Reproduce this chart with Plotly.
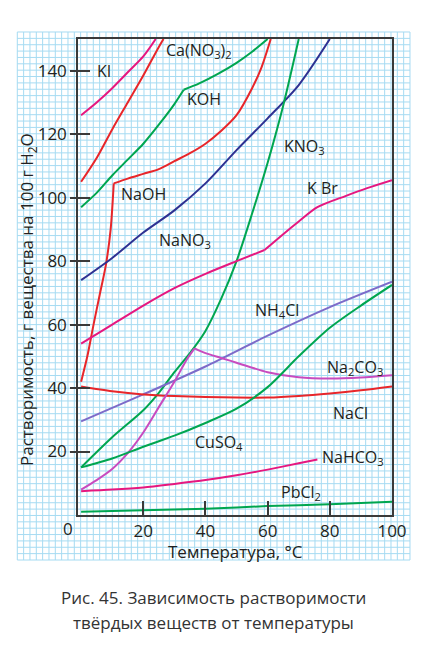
import plotly.graph_objects as go

# ---------------- data (temperature °C, solubility g / 100 g H2O) ----------------
KI_x = [0, 5, 10, 15, 20, 24]
KI_y = [126, 130, 134.5, 139.5, 144.5, 150]

CaNO3_x = [0, 5, 10, 15, 20, 25, 26.5]
CaNO3_y = [105, 112.5, 121.5, 130, 138.5, 147.5, 150]

KOH_x = [0, 5, 10, 15, 20, 25, 30, 33, 38, 44, 50, 55, 60]
KOH_y = [97, 101.5, 107, 112, 117, 123, 129.5, 134, 136, 139, 142.5, 146, 150]

NaOH_x = [0, 2, 4, 6, 8, 9.5, 10.5, 15, 20, 25, 30, 35, 40, 45, 50, 55, 58, 61]
NaOH_y = [42, 50, 60, 69.5, 79, 90, 104.5, 106, 107.5, 109, 111.5, 114, 117, 121, 126, 134.5, 141, 150]

NaNO3_x = [0, 10, 20, 30, 40, 50, 60, 70, 80]
NaNO3_y = [74, 81, 89, 96, 104.5, 115, 125, 135.5, 150]

KNO3_x = [0, 10, 20, 25, 30, 35, 40, 45, 50, 55, 60, 65, 70]
KNO3_y = [15, 24.5, 33, 38.5, 45, 51, 58, 68, 80, 95, 111, 129, 150]

KBr_x = [0, 10, 20, 30, 40, 50, 59, 65, 70, 76, 85, 92, 100]
KBr_y = [54, 60, 66, 71.5, 76, 80, 83.5, 88.5, 92.5, 97, 100.5, 103, 105.5]

NH4Cl_x = [0, 20, 40, 60, 80, 100]
NH4Cl_y = [29.5, 38, 46.8, 56.5, 65.5, 73.5]

NaCl_x = [0, 10, 20, 30, 40, 50, 60, 70, 80, 90, 100]
NaCl_y = [40.5, 39, 38, 37.5, 37.2, 37, 37, 37.5, 38.3, 39.3, 40.5]

Na2CO3_x = [0, 5, 10, 15, 20, 25, 30, 34, 36.5, 40, 45, 50, 60, 70, 80, 90, 100]
Na2CO3_y = [8, 11, 14.5, 19.5, 26, 34, 42, 49, 52.5, 51, 49.5, 48, 45, 43.4, 43, 43.3, 44]

CuSO4_x = [0, 10, 20, 30, 40, 50, 60, 70, 80, 90, 100]
CuSO4_y = [15, 17.8, 21.5, 25, 29, 33.5, 40.3, 50, 59, 66, 72.5]

NaHCO3_x = [0, 10, 20, 30, 40, 50, 60, 70, 76]
NaHCO3_y = [7.5, 8, 8.7, 9.8, 11, 12.5, 14.3, 16.3, 17.5]

PbCl2_x = [0, 20, 40, 60, 80, 100]
PbCl2_y = [1, 1.5, 2, 2.8, 3.4, 4.2]

x_ticks = [20, 40, 60, 80, 100]
y_ticks = [20, 40, 60, 80, 100, 120, 140]

RED = "#e8262a"
MAG = "#e6177f"
GRN = "#00a650"
BLU = "#2e3192"
PUR = "#7d6bc9"
ORC = "#c84bbf"

# (x, y, colour, index of break point where the curve has a sharp corner or None)
series = [
    (KI_x, KI_y, MAG, None), (CaNO3_x, CaNO3_y, RED, None), (KOH_x, KOH_y, GRN, 7),
    (NaOH_x, NaOH_y, RED, 6), (NaNO3_x, NaNO3_y, BLU, None), (KNO3_x, KNO3_y, GRN, None),
    (KBr_x, KBr_y, MAG, 6), (NH4Cl_x, NH4Cl_y, PUR, None), (NaCl_x, NaCl_y, RED, None),
    (Na2CO3_x, Na2CO3_y, ORC, 8), (CuSO4_x, CuSO4_y, GRN, None), (NaHCO3_x, NaHCO3_y, MAG, None),
    (PbCl2_x, PbCl2_y, GRN, None),
]

labels = [
    ("KI", 7.4, 140), ("Ca(NO<sub>3</sub>)<sub>2</sub>", 38, 146.5), ("KOH", 39.4, 131),
    ("NaOH", 20, 101), ("NaNO<sub>3</sub>", 33.5, 86.5), ("KNO<sub>3</sub>", 72, 116),
    ("K Br", 77.7, 103), ("NH<sub>4</sub>Cl", 63, 64.5), ("Na<sub>2</sub>CO<sub>3</sub>", 88, 46.5),
    ("NaCl", 86.5, 32), ("CuSO<sub>4</sub>", 44.5, 23), ("NaHCO<sub>3</sub>", 87.5, 18),
    ("PbCl<sub>2</sub>", 70.6, 7.2),
]

FONT = "Open Sans"
TXT = "#231f20"

fig = go.Figure()
for xs, ys, c, k in series:
    parts = [(xs, ys)] if k is None else [(xs[:k + 1], ys[:k + 1]), (xs[k:], ys[k:])]
    for px_, py_ in parts:
        fig.add_trace(go.Scatter(x=px_, y=py_, mode="lines",
                                 line=dict(color=c, width=2, shape="spline", smoothing=0.8),
                                 showlegend=False, hoverinfo="skip"))
# dummy trace for overlay axes (inside ticks)
fig.add_trace(go.Scatter(x=[], y=[], xaxis="x2", yaxis="y2", showlegend=False))

# ---------------- background graph-paper grid (decoration, pixel based) ----------------
W, H = 425, 651
L, R, T, B = 78, 392, 39, 515


def px2paper_x(px):
    return (px - L) / (R - L)


def px2paper_y(py):
    return (B - py) / (B - T)


gx0, gx1, gy0, gy1 = 17.3, 410, 32, 560
nx, ny = 62, 83
path = ""
for i in range(nx + 1):
    xp = gx0 + (gx1 - gx0) * i / nx
    path += "M{:.5f},{:.5f}L{:.5f},{:.5f}".format(px2paper_x(xp), px2paper_y(gy0), px2paper_x(xp), px2paper_y(gy1))
for j in range(ny + 1):
    yp = gy0 + (gy1 - gy0) * j / ny
    path += "M{:.5f},{:.5f}L{:.5f},{:.5f}".format(px2paper_x(gx0), px2paper_y(yp), px2paper_x(gx1), px2paper_y(yp))
fig.add_shape(type="path", path=path, xref="paper", yref="paper", layer="below",
              line=dict(color="#a6dbf2", width=1))

for text, x, y in labels:
    fig.add_annotation(x=x, y=y, text=text, showarrow=False, xref="x", yref="y",
                       xanchor="center", yanchor="middle",
                       font=dict(family=FONT, size=16, color=TXT))


def paper_text(px, py, text, size=17, color=TXT, angle=0):
    fig.add_annotation(x=px2paper_x(px), y=px2paper_y(py), xref="paper", yref="paper",
                       text=text, showarrow=False, xanchor="center", yanchor="middle",
                       textangle=angle, font=dict(family=FONT, size=size, color=color))


paper_text(68, 528, "0")
paper_text(235, 551, "Температура, °C")
paper_text(27, 300, "Растворимость, г вещества на 100 г H<sub>2</sub>O", angle=-90)
paper_text(213, 597, "Рис. 45. Зависимость растворимости", color="#333333")
paper_text(213, 622, "твёрдых веществ от температуры", color="#333333")

AX = "#3a3a3a"
fig.update_layout(
    width=W, height=H,
    margin=dict(l=L, r=W - R, t=T, b=H - B, pad=0),
    paper_bgcolor="white", plot_bgcolor="rgba(0,0,0,0)",
    font=dict(family=FONT, size=17, color=TXT),
    xaxis=dict(range=[-1, 100], showgrid=False, zeroline=False, showline=True, mirror=True,
               linecolor=AX, linewidth=1.5, tickvals=x_ticks, ticks="",
               tickfont=dict(family=FONT, size=17, color=TXT)),
    yaxis=dict(range=[0, 150], showgrid=False, zeroline=False, showline=True, mirror=True,
               linecolor=AX, linewidth=1.5, tickvals=y_ticks, ticks="outside", ticklen=6,
               tickwidth=1.5, tickcolor=AX, tickfont=dict(family=FONT, size=17, color=TXT)),
    xaxis2=dict(range=[-1, 100], overlaying="x", anchor="y2", side="bottom", showgrid=False,
                zeroline=False, showline=False, tickvals=[20, 40, 60, 80], ticks="inside",
                ticklen=14, tickwidth=1.5, tickcolor=AX, showticklabels=False),
    yaxis2=dict(range=[0, 150], overlaying="y", anchor="x2", side="left", showgrid=False,
                zeroline=False, showline=False, tickvals=y_ticks, ticks="inside",
                ticklen=12, tickwidth=1.5, tickcolor=AX, showticklabels=False),
)

fig.write_html("out.html", config={"displayModeBar": False},
               post_script="document.body.style.margin='0';document.body.style.overflow='hidden';")
